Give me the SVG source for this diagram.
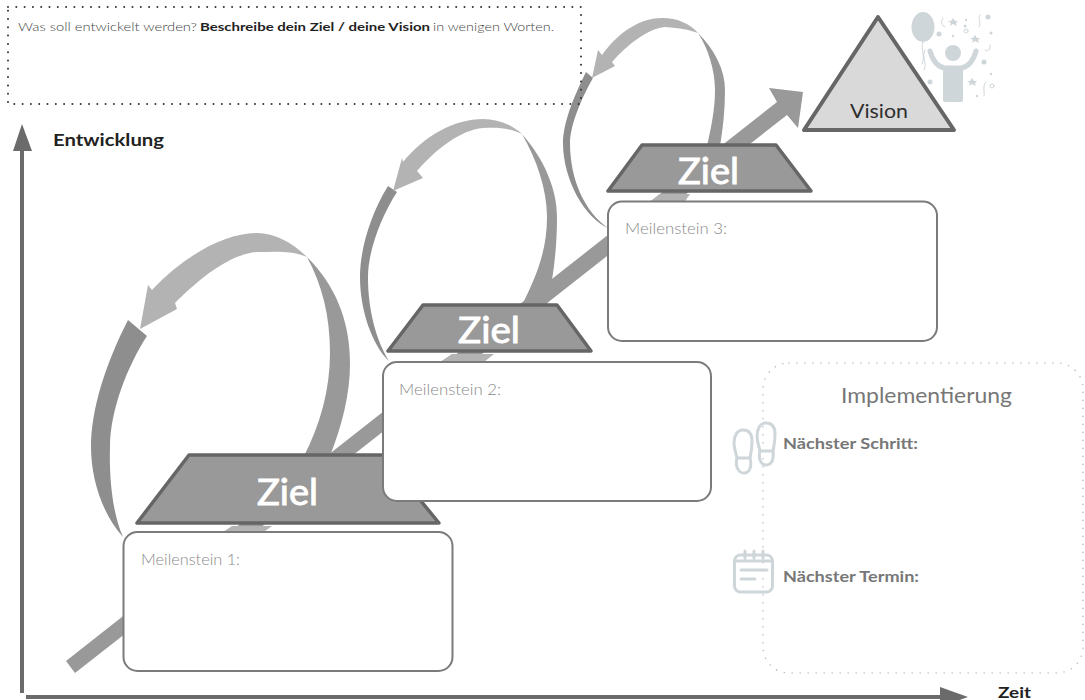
<svg xmlns="http://www.w3.org/2000/svg" width="1085" height="700" viewBox="0 0 1085 700">
<style>
text{font-family:"Lato","Liberation Sans",sans-serif}
.box{fill:#fff;stroke:#7b7b7b;stroke-width:2}
.trap{fill:#999;stroke:#666;stroke-width:3.5;stroke-linejoin:round}
.ziel{fill:#fff;stroke:#fff;stroke-width:.9;font-size:36px;font-weight:400}
.ms{fill:#8a8a8a;font-size:15px;font-weight:300}
.dark{fill:#8e8e8e}.mid{fill:#999}.light{fill:#b3b3b3}
.impl{fill:#777;font-size:15px;font-weight:700}
.icon{fill:none;stroke:#cfd6da;stroke-width:3;stroke-linecap:round;stroke-linejoin:round}
.thin{fill:none;stroke:#cfd6da;stroke-width:1;stroke-linecap:round}
.arms{fill:none;stroke:#cfd6da;stroke-width:5;stroke-linecap:round;stroke-linejoin:round}
.conf{fill:#cfd6da}
</style>
<rect width="1085" height="700" fill="#fff"/>
<g id="connectors">
<polygon class="mid" points="66,661 75,673 787,115 798,128 803,92 769,88 777,102"/>
<polygon class="light" points="232,526 272,526 261,534 220,534"/>
<polygon class="light" points="452,354 494,354 484,362 440,362"/>
<polygon class="light" points="660,194 690,194 684,203 648,203"/>
<path class="dark" d="M128,320C105,365 91,410 91,447C91,480 103,515 123,537C113,515 109,480 110,447C110,410 128,365 147,336Z"/>
<path class="light" d="M140,329L148,285L152,290C185,255 225,233 257,233C275,233 293,243 307,257C290,250 275,252 257,252C230,254 200,278 175,303L177,309Z"/>
<path class="mid" d="M307,257C335,285 350,320 350,363C350,395 342,425 330,456L304,456C320,425 330,390 330,353C330,315 322,285 307,257Z"/>
<path class="dark" d="M388,186C370,215 360,250 360,277C360,310 372,345 389,361C376,340 368,310 368,277C368,250 382,215 397,192Z"/>
<path class="light" d="M393,191L402,158L403,162C425,135 455,119 483,119C497,119 511,124 522,134C510,128 497,127 483,128C460,130 435,150 417,171L423,178Z"/>
<path class="mid" d="M522,134C545,160 557,190 557,217C557,250 553,280 547,305L522,305C537,275 547,250 547,217C547,190 537,160 522,134Z"/>
<path class="dark" d="M586,72C572,100 563,125 563,143C563,180 585,218 608,228C585,212 570,180 570,143C570,125 582,97 593,78Z"/>
<path class="light" d="M592,78L598,50L602,55C620,30 642,18 662,18C678,18 690,24 698,33C690,30 680,28 665,27C648,28 625,47 612,62L615,66Z"/>
<path class="mid" d="M698,33C715,50 725,70 725,90C725,110 723,128 720,146L707,146C711,128 715,110 715,90C715,70 708,48 698,33Z"/>
<g id="axes" fill="#6b6b6b">
<rect x="20" y="148" width="4" height="545"/>
<polygon points="22,124 32,151 13,151"/>
<rect x="26" y="695" width="916" height="4"/>
<polygon points="940,687 968,697 940,707"/>
</g>
</g>
<g id="task-box">
<rect x="8" y="7" width="573" height="97" fill="none" stroke="#333" stroke-width="2" stroke-linecap="round" stroke-dasharray="0 8.3"/>
<text y="31" font-size="11.5" fill="#444" font-weight="300"><tspan x="18" textLength="179" lengthAdjust="spacingAndGlyphs">Was soll entwickelt werden?</tspan><tspan x="200" textLength="230" lengthAdjust="spacingAndGlyphs" font-weight="700" fill="#222">Beschreibe dein Ziel / deine Vision</tspan><tspan x="433" textLength="121" lengthAdjust="spacingAndGlyphs">in wenigen Worten.</tspan></text>
</g>
<text id="y-label" x="53" y="146" font-size="17" font-weight="700" fill="#222" textLength="111" lengthAdjust="spacingAndGlyphs">Entwicklung</text>
<text id="x-label" x="998" y="698" font-size="15" font-weight="700" fill="#222" textLength="33" lengthAdjust="spacingAndGlyphs">Zeit</text>
<g id="ziel-1">
<polygon class="trap" points="189,455 137,523 439,523 383,455"/>
<text class="ziel" x="257" y="505" textLength="61" lengthAdjust="spacingAndGlyphs">Ziel</text>
</g>
<g id="meilenstein-1">
<rect class="box" x="123.500" y="532" width="329" height="139" rx="14"/>
<text class="ms" x="141" y="565" textLength="99" lengthAdjust="spacingAndGlyphs">Meilenstein 1:</text>
</g>
<g id="ziel-2">
<polygon class="trap" points="423,305 388,351 591,351 557,305"/>
<text class="ziel" x="458" y="343" textLength="62" lengthAdjust="spacingAndGlyphs">Ziel</text>
</g>
<g id="meilenstein-2">
<rect class="box" x="383" y="362" width="328" height="139" rx="14"/>
<text class="ms" x="399" y="395" textLength="102" lengthAdjust="spacingAndGlyphs">Meilenstein 2:</text>
</g>
<g id="ziel-3">
<polygon class="trap" points="642,145 608,191 811,191 776,145"/>
<text class="ziel" x="678" y="184" textLength="61" lengthAdjust="spacingAndGlyphs">Ziel</text>
</g>
<g id="meilenstein-3">
<rect class="box" x="608" y="201.500" width="329" height="139.500" rx="14"/>
<text class="ms" x="625" y="234" textLength="102" lengthAdjust="spacingAndGlyphs">Meilenstein 3:</text>
</g>
<g id="vision-icon">
<ellipse class="conf" cx="923" cy="27" rx="11.500" ry="15"/>
<path class="thin" d="M923,42C920,50 926,56 922,64M925,50C921,58 928,64 924,70"/>
<circle class="conf" cx="953" cy="53" r="8"/>
<path class="arms" d="M930,51C933,62 938,67 945,68H961C968,67 973,62 976,51"/>
<rect class="conf" x="943" y="66" width="20" height="36" rx="2"/>
<g class="conf">
<circle cx="988" cy="17" r="2.500"/><circle cx="939" cy="34" r="2.500"/><circle cx="965" cy="26" r="1.500"/><circle cx="984" cy="62" r="2.500"/><circle cx="930" cy="82" r="2.500"/><circle cx="991" cy="33" r="1.500"/><circle cx="977" cy="96" r="1.200"/><circle cx="991" cy="74" r="1.200"/><circle cx="966" cy="20" r="1.200"/><circle cx="953" cy="36" r="1.200"/>
<polygon points="953,18 955,21 958,21 956,23 957,26 953,24 950,26 951,23 948,21 951,21"/>
<polygon points="975,35 977,38 980,38 978,40 979,43 975,41 972,43 973,40 970,38 973,38"/>
<polygon points="972,78 974,81 977,81 975,83 976,86 972,84 969,86 970,83 967,81 970,81"/>
</g>
<g class="thin">
<circle cx="966" cy="31" r="2"/><circle cx="992" cy="86" r="2"/><path d="M943,18C940,22 942,26 945,27M980,15C977,19 982,22 979,27M990,45C991,50 987,52 985,50M986,82C982,86 985,92 984,96"/>
</g>
</g>
<g id="vision">
<polygon points="878,17 804,130 954,130" fill="#d9d9d9" stroke="#666" stroke-width="4" stroke-linejoin="round"/>
<text x="850" y="118" font-size="19" font-weight="400" fill="#2e2e2e" textLength="58" lengthAdjust="spacingAndGlyphs">Vision</text>
</g>
<g id="implementierung">
<rect x="763" y="363" width="320" height="310" rx="26" fill="none" stroke="#bcbcbc" stroke-width="1.600" stroke-linecap="round" stroke-dasharray="0 8"/>
<text x="841" y="403" font-size="21" fill="#777" textLength="171" lengthAdjust="spacingAndGlyphs">Implementierung</text>
<text class="impl" x="783" y="449" textLength="135" lengthAdjust="spacingAndGlyphs">Nächster Schritt:</text>
<text class="impl" x="783" y="582" textLength="136" lengthAdjust="spacingAndGlyphs">Nächster Termin:</text>
<g id="footprints" class="icon">
<path d="M743,430C737,430 734,436 734,443C734,449 736,453 737,458H750C751,453 752,447 752,441C752,434 749,430 743,430Z"/>
<path d="M737,458C735,466 738,473 744,473C750,473 752,466 750,458"/>
<path d="M766,423C760,423 757,429 757,436C757,442 759,446 760,451H773C774,446 775,440 775,434C775,427 772,423 766,423Z"/>
<path d="M760,451C758,459 761,465 766,465C772,465 774,459 773,451"/>
</g>
<g id="calendar" class="icon">
<rect x="734.500" y="555" width="38" height="37" rx="6"/>
<path d="M735,561H772M745,551V558M754,551V558M763,551V558M741,570H767M741,579H755"/>
</g>
</g>
</svg>
